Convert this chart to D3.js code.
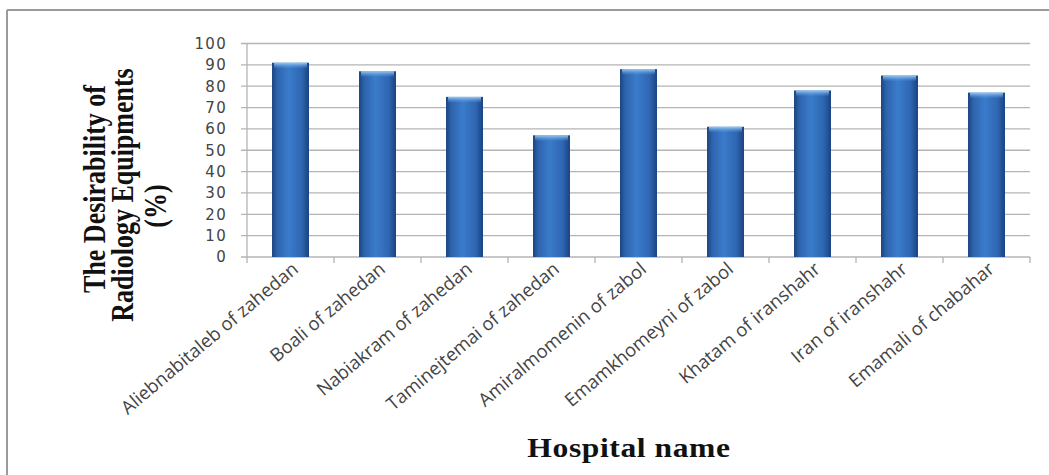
<!DOCTYPE html>
<html>
<head>
<meta charset="utf-8">
<script src="https://cdn.jsdelivr.net/npm/d3@7"></script>
<style>
body { margin: 0; background: #fff; }
svg { display: block; }
.grid line { stroke: #b4b4b4; stroke-width: 1.3; }
.ytick text { font-family: "DejaVu Sans", sans-serif; font-size: 15px; fill: #444; }
.xlab { font-family: "Open Sans", sans-serif; font-size: 18.5px; fill: #444; }
.title { font-family: "Liberation Serif", serif; font-weight: bold; fill: #111; }
</style>
</head>
<body>
<svg id="chart" width="1049" height="475"></svg>
<script>
var hospitals = ["Aliebnabitaleb of zahedan", "Boali of zahedan", "Nabiakram of zahedan",
	"Taminejtemai of zahedan", "Amiralmomenin of zabol", "Emamkhomeyni of zabol",
	"Khatam of iranshahr", "Iran of iranshahr", "Emamali of chabahar"];
var values = [91, 87, 75, 57, 88, 61, 78, 85, 77];
var yTicks = [0, 10, 20, 30, 40, 50, 60, 70, 80, 90, 100];

function drawChart()
{
	var svg = d3.select("#chart");
	var left = 247, right = 1030, top = 43.5, bottom = 257;

	// frame of the chart area
	svg.append("line").attr("x1", 7).attr("y1", 10).attr("x2", 1049).attr("y2", 10)
		.attr("stroke", "#9a9a9a").attr("stroke-width", 2);
	svg.append("line").attr("x1", 7).attr("y1", 10).attr("x2", 7).attr("y2", 475)
		.attr("stroke", "#9a9a9a").attr("stroke-width", 2);

	var x = d3.scaleBand()
		.domain(hospitals)
		.range([left, right])
		.paddingInner(0.575)
		.paddingOuter(0.2875);

	var y = d3.scaleLinear()
		.domain([0, 100])
		.range([bottom, top]);

	var defs = svg.append("defs");
	var grad = defs.append("linearGradient").attr("id", "barGrad")
		.attr("x1", "0%").attr("x2", "100%").attr("y1", "0%").attr("y2", "0%");
	grad.append("stop").attr("offset", "0%").attr("stop-color", "#1b447e");
	grad.append("stop").attr("offset", "14%").attr("stop-color", "#2e63ad");
	grad.append("stop").attr("offset", "45%").attr("stop-color", "#3a7ccb");
	grad.append("stop").attr("offset", "80%").attr("stop-color", "#2f66b1");
	grad.append("stop").attr("offset", "100%").attr("stop-color", "#1a4380");

	var cap = defs.append("linearGradient").attr("id", "capGrad")
		.attr("x1", "0%").attr("x2", "0%").attr("y1", "0%").attr("y2", "100%");
	cap.append("stop").attr("offset", "0%").attr("stop-color", "#9ccaf4").attr("stop-opacity", 1);
	cap.append("stop").attr("offset", "100%").attr("stop-color", "#5b9be0").attr("stop-opacity", 0);

	// gridlines
	var grid = svg.append("g").attr("class", "grid");
	grid.selectAll("line")
		.data(yTicks)
		.enter()
		.append("line")
		.attr("x1", left - 6)
		.attr("x2", right)
		.attr("y1", function(d) { return y(d); })
		.attr("y2", function(d) { return y(d); });

	var yAxis = d3.axisLeft(y).tickValues(yTicks).tickSize(0).tickPadding(20);
	svg.append("g")
		.attr("class", "ytick")
		.attr("transform", "translate(" + left + ",0)")
		.call(yAxis)
		.call(function(g) { g.select(".domain").remove(); })
		.selectAll("text")
		.attr("letter-spacing", "1.3px");

	// axis lines
	svg.append("line").attr("x1", left).attr("x2", left).attr("y1", top).attr("y2", bottom)
		.attr("stroke", "#b4b4b4").attr("stroke-width", 1.3);

	var bounds = hospitals.map(function(d) { return x(d) - x.step() * x.paddingInner() / 2; });
	bounds.push(right);
	svg.selectAll(".xtickmark")
		.data(bounds)
		.enter()
		.append("line")
		.attr("class", "xtickmark")
		.attr("x1", function(d) { return d; })
		.attr("x2", function(d) { return d; })
		.attr("y1", bottom)
		.attr("y2", bottom + 6)
		.attr("stroke", "#b4b4b4")
		.attr("stroke-width", 1.3);

	// bars
	var bars = svg.selectAll(".bar")
		.data(values)
		.enter()
		.append("g")
		.attr("class", "bar");

	bars.append("rect")
		.attr("x", function(d, i) { return x(hospitals[i]); })
		.attr("y", function(d) { return y(d); })
		.attr("width", x.bandwidth())
		.attr("height", function(d) { return bottom - y(d); })
		.attr("fill", "url(#barGrad)");

	bars.append("rect")
		.attr("x", function(d, i) { return x(hospitals[i]) + 2; })
		.attr("y", function(d) { return y(d); })
		.attr("width", x.bandwidth() - 4)
		.attr("height", 6)
		.attr("fill", "url(#capGrad)");

	// category labels
	svg.selectAll(".xlab")
		.data(hospitals)
		.enter()
		.append("text")
		.attr("class", "xlab")
		.attr("text-anchor", "end")
		.attr("transform", function(d)
		{
			return "translate(" + (x(d) + x.bandwidth() / 2 + 9) + "," + (bottom + 14) + ") rotate(-40)";
		})
		.text(function(d) { return d; });

	// titles
	var yTitle = ["The Desirability of", "Radiology Equipments", "(%)"];
	var yTitleX = [95, 123, 156];
	var yTitleY = [189, 195, 206];
	svg.selectAll(".ytitle")
		.data(yTitle)
		.enter()
		.append("text")
		.attr("class", "title")
		.attr("font-size", "26px")
		.attr("text-anchor", "middle")
		.attr("transform", function(d, i) { return "translate(" + (yTitleX[i] + 10) + "," + yTitleY[i] + ") scale(1.2,1) rotate(-90)"; })
		.text(function(d) { return d; });

	svg.append("text")
		.attr("class", "title")
		.attr("font-size", "27px")
		.attr("text-anchor", "middle")
		.attr("transform", "translate(629,457) scale(1.17,1)")
		.attr("letter-spacing", "0.5px")
		.text("Hospital name");
}

drawChart();
</script>
</body>
</html>
